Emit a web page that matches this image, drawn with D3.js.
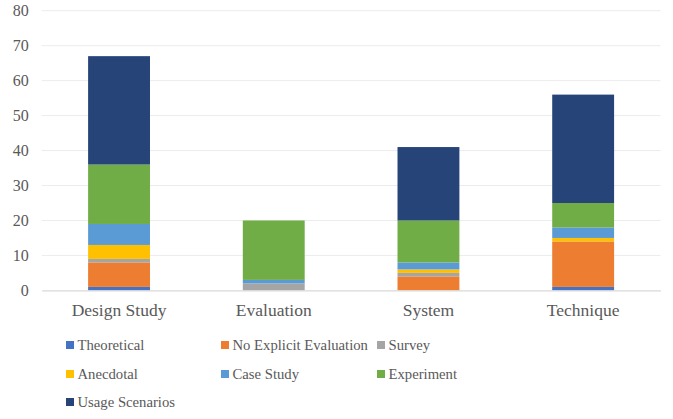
<!DOCTYPE html>
<html>
<head>
<meta charset="utf-8">
<script src="https://cdn.jsdelivr.net/npm/d3@7"></script>
<style>
  body { margin: 0; background: #fff; }
  svg text { font-family: "Times New Roman", "Liberation Serif", Times, serif !important; fill: #595959; }
</style>
</head>
<body>
<svg id="chart" width="673" height="419"></svg>
<script>
// data
const categories = ["Design Study", "Evaluation", "System", "Technique"]
const seriesNames = ["Theoretical", "No Explicit Evaluation", "Survey", "Anecdotal", "Case Study", "Experiment", "Usage Scenarios"]
const seriesColors = ["#4472C4", "#ED7D31", "#A5A5A5", "#FFC000", "#5B9BD5", "#70AD47", "#264478"]
const theoretical = [1, 0, 0, 1]
const noExplicit = [7, 0, 4, 13]
const survey = [1, 2, 1, 0]
const anecdotal = [4, 0, 1, 1]
const caseStudy = [6, 1, 2, 3]
const experiment = [17, 17, 12, 7]
const usageScenarios = [31, 0, 21, 31]
const yTicks = [0, 10, 20, 30, 40, 50, 60, 70, 80]

const seriesValues = [theoretical, noExplicit, survey, anecdotal, caseStudy, experiment, usageScenarios]
const rows = categories.map(function(c, i) {
    const r = {cat: c}
    seriesNames.forEach(function(s, j) { r[s] = seriesValues[j][i] })
    return r
})

const FONT = "'Times New Roman', 'Liberation Serif', Times, serif"
const svg = d3.select("#chart")
const plotLeft = 41.7, plotRight = 660.5, plotTop = 10.7, plotBottom = 290.4

const xScale = d3.scaleBand()
    .domain(categories)
    .range([plotLeft, plotRight])
    .paddingInner(0.6)
    .paddingOuter(0.3)

const yScale = d3.scaleLinear()
    .domain([0, 80])
    .range([plotBottom, plotTop])

// gridlines
svg.append("g")
    .selectAll("line")
    .data(yTicks.slice(1))
    .enter()
    .append("line")
    .attr("x1", plotLeft)
    .attr("x2", plotRight)
    .attr("y1", function(d) { return yScale(d) })
    .attr("y2", function(d) { return yScale(d) })
    .attr("stroke", "#ececec")
    .attr("stroke-width", 1)

// y labels
const axisL = d3.axisLeft(yScale).tickValues(yTicks).tickSize(0).tickPadding(13)
const gy = svg.append("g")
    .attr("transform", "translate(" + plotLeft + ",0)")
    .call(axisL)
    .attr("font-family", FONT)
gy.select(".domain").remove()
gy.selectAll("text")
    .style("font-size", "16px")
    .attr("fill", "#595959")

const stack = d3.stack().keys(seriesNames)(rows)

svg.append("g")
    .selectAll("g")
    .data(stack)
    .enter()
    .append("g")
    .attr("fill", function(d, i) { return seriesColors[i] })
    .selectAll("rect")
    .data(function(d) { return d })
    .enter()
    .append("rect")
    .attr("x", function(d) { return xScale(d.data.cat) })
    .attr("width", xScale.bandwidth())
    .attr("y", function(d) { return yScale(d[1]) })
    .attr("height", function(d) { return yScale(d[0]) - yScale(d[1]) })

// x axis
const axisB = d3.axisBottom(xScale).tickSize(0).tickPadding(13)
const gx = svg.append("g")
    .attr("transform", "translate(0," + plotBottom + ")")
    .call(axisB)
    .attr("font-family", FONT)
gx.select(".domain").attr("stroke", "#d9d9d9").attr("stroke-width", 1.2)
gx.selectAll("text")
    .style("font-size", "17.5px")
    .attr("fill", "#595959")

// legend
const legendX = [66, 221, 377]
const legendY = [345, 374, 402]
const legend = svg.append("g")
    .attr("font-family", FONT)
    .selectAll("g")
    .data(seriesNames)
    .enter()
    .append("g")
    .attr("transform", function(d, i) {
        return "translate(" + legendX[i % 3] + "," + legendY[Math.floor(i / 3)] + ")"
    })
legend.append("rect")
    .attr("x", 0)
    .attr("y", -4)
    .attr("width", 8)
    .attr("height", 8)
    .attr("fill", function(d, i) { return seriesColors[i] })
legend.append("text")
    .attr("x", 11.5)
    .attr("y", 0)
    .attr("dy", "0.35em")
    .style("font-size", "14.7px")
    .text(function(d) { return d })
</script>
</body>
</html>
